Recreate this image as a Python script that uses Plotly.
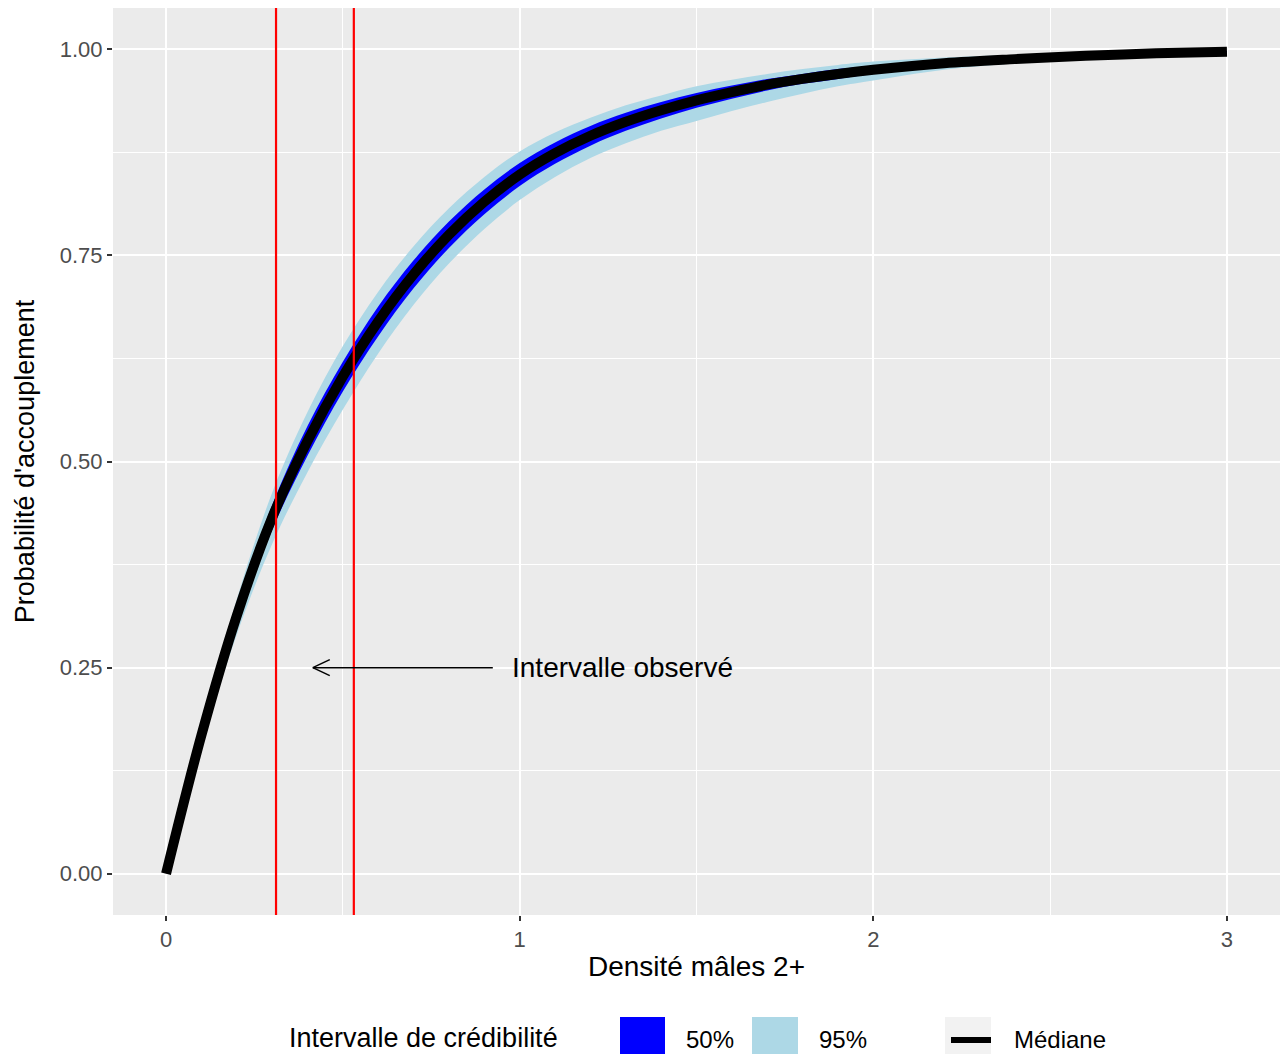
import plotly.graph_objects as go

# ---- data ----
densite = [0, 0.1, 0.2, 0.3, 0.4, 0.5, 0.6, 0.7, 0.8, 0.9, 1.0, 1.1, 1.2, 1.3, 1.4,
           1.5, 1.6, 1.7, 1.8, 1.9, 2.0, 2.2, 2.4, 2.6, 2.8, 3.0]
mediane = [0, 0.168, 0.313, 0.432, 0.525, 0.603, 0.670, 0.727, 0.775, 0.815, 0.848,
           0.874, 0.895, 0.912, 0.926, 0.938, 0.948, 0.957, 0.964, 0.970, 0.975,
           0.983, 0.988, 0.992, 0.995, 0.997]
bas95 = [0, 0.155, 0.290, 0.400, 0.487, 0.563, 0.631, 0.690, 0.740, 0.782, 0.817,
         0.845, 0.868, 0.886, 0.901, 0.913, 0.925, 0.936, 0.946, 0.955, 0.962,
         0.975, 0.983, 0.989, 0.993, 0.996]
haut95 = [0, 0.178, 0.333, 0.462, 0.560, 0.640, 0.706, 0.761, 0.807, 0.845, 0.876,
          0.899, 0.917, 0.932, 0.944, 0.955, 0.963, 0.970, 0.976, 0.981, 0.985,
          0.990, 0.993, 0.995, 0.997, 0.998]
bas50 = [0, 0.162, 0.302, 0.417, 0.507, 0.585, 0.652, 0.710, 0.759, 0.800, 0.834,
         0.861, 0.883, 0.901, 0.916, 0.929, 0.940, 0.950, 0.958, 0.964, 0.970,
         0.979, 0.985, 0.990, 0.994, 0.996]
haut50 = [0, 0.174, 0.324, 0.447, 0.543, 0.621, 0.688, 0.744, 0.791, 0.830, 0.862,
          0.887, 0.907, 0.923, 0.936, 0.947, 0.956, 0.964, 0.970, 0.976, 0.980,
          0.987, 0.991, 0.994, 0.996, 0.998]

intervalle_obs = [0.311, 0.531]   # red vertical lines
y_ticks = [0, 0.25, 0.5, 0.75, 1.0]
x_ticks = [0, 1, 2, 3]

FONT = "Liberation Sans, Arial, sans-serif"

# plot area in pixels (for placing the hand-made legend)
L, R, T, B = 113, 1280, 8, 915


def px_x(p):
    return (p - L) / (R - L)


def px_y(p):
    return (B - p) / (B - T)


fig = go.Figure()

# ribbons: lower edge, then upper edge filled down to it
for lo, hi, col in [(bas95, haut95, '#ADD8E6'), (bas50, haut50, '#0000FF')]:
    fig.add_trace(go.Scatter(x=densite, y=lo, mode='lines', line=dict(width=0, shape='spline'),
                             hoverinfo='skip'))
    fig.add_trace(go.Scatter(x=densite, y=hi, mode='lines', fill='tonexty', fillcolor=col,
                             line=dict(width=0, shape='spline'), hoverinfo='skip'))

# median
fig.add_trace(go.Scatter(
    x=densite, y=mediane, mode='lines',
    line=dict(color='black', width=10, shape='spline'),
    hovertemplate='Densité: %{x}<br>Médiane: %{y:.3f}<extra></extra>'
))

shapes = []
for xv in intervalle_obs:
    shapes.append(dict(type='line', xref='x', yref='paper', x0=xv, x1=xv, y0=0, y1=1,
                       line=dict(color='red', width=2.2)))

# arrow "Intervalle observé"
ax0, ax1, ay = 0.924, 0.415, 0.25
shapes.append(dict(type='line', x0=ax0, x1=ax1, y0=ay, y1=ay,
                   line=dict(color='black', width=1.5)))
for dy in (0.0097, -0.0097):
    shapes.append(dict(type='line', x0=ax1, x1=ax1 + 0.048, y0=ay, y1=ay + dy,
                       line=dict(color='black', width=1.5)))

# legend keys (drawn by hand to get ggplot-sized keys)
ky0, ky1 = px_y(1062), px_y(1017)
shapes.append(dict(type='rect', xref='paper', yref='paper', x0=px_x(620), x1=px_x(665),
                   y0=ky0, y1=ky1, fillcolor='#0000FF', line=dict(width=0)))
shapes.append(dict(type='rect', xref='paper', yref='paper', x0=px_x(752), x1=px_x(798),
                   y0=ky0, y1=ky1, fillcolor='#ADD8E6', line=dict(width=0)))
shapes.append(dict(type='rect', xref='paper', yref='paper', x0=px_x(945), x1=px_x(991),
                   y0=ky0, y1=ky1, fillcolor='#F2F2F2', line=dict(width=0)))
shapes.append(dict(type='line', xref='paper', yref='paper', x0=px_x(951), x1=px_x(991),
                   y0=px_y(1040), y1=px_y(1040), line=dict(color='black', width=6)))

annotations = [
    dict(x=0.972, y=ay, xref='x', yref='y', text='Intervalle observé', showarrow=False,
         xanchor='left', yanchor='middle', font=dict(size=28, color='black', family=FONT)),
    dict(x=px_x(287), y=px_y(1038), xref='paper', yref='paper', text='Intervalle de crédibilité',
         showarrow=False, xanchor='left', yanchor='middle',
         font=dict(size=27, color='black', family=FONT)),
    dict(x=px_x(684), y=px_y(1039), xref='paper', yref='paper', text='50%',
         showarrow=False, xanchor='left', yanchor='middle',
         font=dict(size=24, color='black', family=FONT)),
    dict(x=px_x(817), y=px_y(1039), xref='paper', yref='paper', text='95%',
         showarrow=False, xanchor='left', yanchor='middle',
         font=dict(size=24, color='black', family=FONT)),
    dict(x=px_x(1012), y=px_y(1039), xref='paper', yref='paper', text='Médiane',
         showarrow=False, xanchor='left', yanchor='middle',
         font=dict(size=24, color='black', family=FONT)),
]

fig.update_layout(
    width=1280, height=1054,
    margin=dict(l=L, r=1280 - R, t=T, b=1054 - B),
    plot_bgcolor='#EBEBEB', paper_bgcolor='white',
    showlegend=False,
    font=dict(family=FONT),
    shapes=shapes,
    annotations=annotations,
    xaxis=dict(
        range=[-0.15, 3.15], tickvals=x_ticks, zeroline=False,
        showgrid=True, gridcolor='white', gridwidth=2,
        minor=dict(tickvals=[0.5, 1.5, 2.5], showgrid=True, gridcolor='white', gridwidth=1),
        ticks='outside', ticklen=5, tickwidth=1.5, tickcolor='#333333',
        tickfont=dict(size=22, color='#4D4D4D'),
        title=dict(text='Densité mâles 2+', font=dict(size=28, color='black'), standoff=4),
    ),
    yaxis=dict(
        range=[-0.05, 1.05], tickvals=y_ticks, tickformat='.2f', zeroline=False,
        showgrid=True, gridcolor='white', gridwidth=2,
        minor=dict(tickvals=[0.125, 0.375, 0.625, 0.875], showgrid=True,
                   gridcolor='white', gridwidth=1),
        ticks='outside', ticklen=5, tickwidth=1.5, tickcolor='#333333',
        tickfont=dict(size=22, color='#4D4D4D'),
        title=dict(text="Probabilité d'accouplement", font=dict(size=27, color='black'),
                   standoff=17),
    ),
)

# drop the page's default body margin so the figure fills the window exactly
fig.write_html("out.html", config={'displayModeBar': False},
               post_script="document.body.style.margin='0';")
